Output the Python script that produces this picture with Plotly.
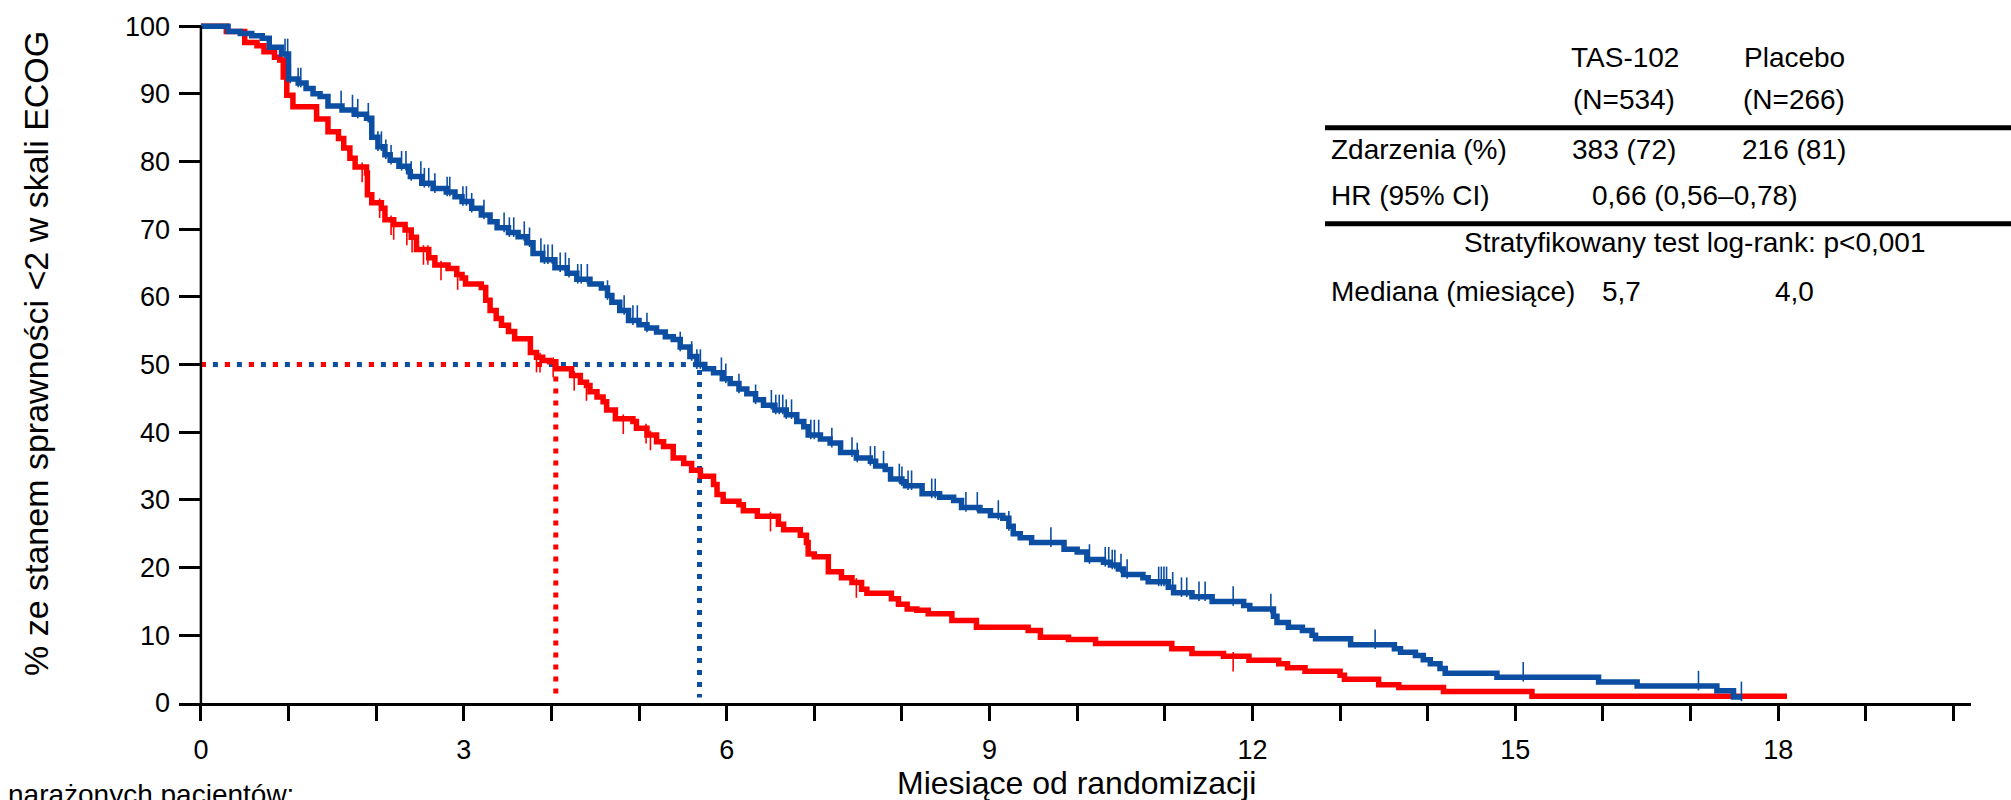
import numpy as np
import plotly.graph_objects as go

# ---------------- data ----------------
# TAS-102 (blue) Kaplan-Meier step points: month, % with ECOG <2
tas_t = [0, 0.31, 0.45, 0.58, 0.70, 0.78, 0.92, 1.00, 1.11, 1.20, 1.28, 1.36, 1.45, 1.61, 1.75,
         1.89, 1.95, 2.02, 2.10, 2.16, 2.26, 2.37, 2.39, 2.52, 2.65, 2.80, 2.90, 2.98, 3.09, 3.20,
         3.30, 3.38, 3.51, 3.62, 3.72, 3.79, 3.90, 4.04, 4.18, 4.29, 4.44, 4.57, 4.64, 4.69, 4.78,
         4.88, 5.00, 5.09, 5.20, 5.30, 5.39, 5.47, 5.58, 5.66, 5.75, 5.85, 5.95, 6.04, 6.14, 6.23,
         6.33, 6.42, 6.55, 6.68, 6.80, 6.88, 6.93, 7.07, 7.18, 7.30, 7.48, 7.64, 7.70, 7.81, 7.87,
         8.00, 8.04, 8.23, 8.43, 8.59, 8.68, 8.89, 9.01, 9.15, 9.22, 9.27, 9.35, 9.48, 9.85, 10.00,
         10.11, 10.30, 10.38, 10.47, 10.53, 10.75, 10.81, 11.04, 11.10, 11.31, 11.54, 11.90, 11.97,
         12.24, 12.28, 12.41, 12.57, 12.68, 12.72, 13.12, 13.62, 13.69, 13.86, 13.95, 14.03, 14.14,
         14.20, 14.79, 15.95, 16.39, 17.30, 17.49, 17.59]
tas_s = [100, 99.2, 98.9, 98.6, 98.2, 96.9, 95.9, 92.2, 91.6, 90.8, 90.0, 89.6, 88.2, 87.6, 87.0,
         86.4, 83.6, 82.2, 81.0, 80.2, 79.3, 78.5, 77.8, 76.8, 76.0, 75.5, 74.8, 74.1, 73.1, 72.1,
         71.1, 70.2, 69.5, 68.9, 68.0, 66.4, 65.5, 64.3, 63.5, 62.6, 61.9, 61.3, 60.2, 59.2, 58.0,
         56.5, 55.9, 55.4, 54.8, 54.1, 53.7, 52.6, 51.2, 50.0, 49.4, 48.8, 47.9, 47.2, 46.4, 45.7,
         44.8, 44.0, 43.3, 42.6, 41.6, 40.8, 39.6, 39.0, 38.4, 37.0, 36.2, 35.7, 35.0, 34.5, 33.1,
         32.7, 32.1, 30.9, 30.4, 29.9, 28.9, 28.4, 27.7, 27.3, 26.1, 25.0, 24.4, 23.7, 22.7, 22.3,
         21.2, 20.8, 20.4, 19.8, 19.0, 18.5, 17.9, 17.1, 16.3, 15.7, 15.0, 14.4, 13.9,
         12.8, 11.9, 11.2, 10.7, 10.0, 9.5, 8.6, 8.0, 7.5, 7.0, 6.4, 5.8, 5.1,
         4.4, 3.8, 3.1, 2.5, 1.8, 0.9, 0.9]

# Placebo (red)
pla_t = [0, 0.29, 0.50, 0.64, 0.72, 0.84, 0.90, 0.94, 0.98, 1.05, 1.32, 1.45, 1.57, 1.63, 1.70,
         1.76, 1.89, 1.90, 1.95, 2.06, 2.10, 2.20, 2.33, 2.40, 2.46, 2.60, 2.67, 2.82, 2.92, 2.98,
         3.02, 3.20, 3.25, 3.30, 3.37, 3.43, 3.51, 3.58, 3.76, 3.83, 3.90, 3.98, 4.05, 4.23, 4.33,
         4.40, 4.44, 4.52, 4.59, 4.63, 4.73, 4.93, 4.97, 5.09, 5.20, 5.28, 5.39, 5.51, 5.60, 5.70,
         5.85, 5.89, 5.96, 6.14, 6.19, 6.35, 6.59, 6.65, 6.84, 6.91, 6.93, 7.00, 7.16, 7.31, 7.43,
         7.54, 7.60, 7.88, 7.96, 8.06, 8.17, 8.30, 8.57, 8.85, 9.44, 9.58, 9.90, 10.21, 11.08, 11.31,
         11.67, 11.96, 12.30, 12.40, 12.60, 13.00, 13.05, 13.44, 13.67, 14.18, 15.19, 18.10]
pla_s = [100, 99.2, 97.6, 97.1, 96.2, 95.4, 95.0, 92.5, 89.8, 88.1, 86.3, 84.4, 83.4, 82.0, 80.5,
         79.2, 78.3, 75.1, 73.9, 73.1, 71.4, 70.7, 69.9, 68.8, 67.0, 65.8, 64.7, 64.2, 63.3, 62.8,
         61.9, 61.4, 59.5, 58.0, 56.8, 55.8, 54.9, 53.8, 51.8, 51.1, 50.6, 50.4, 49.4, 48.4, 47.4,
         46.9, 46.0, 45.2, 44.5, 43.3, 42.0, 41.6, 40.6, 39.6, 38.6, 37.9, 36.2, 35.4, 34.4, 33.5,
         32.3, 30.8, 29.8, 29.3, 28.4, 27.6, 26.4, 25.6, 24.8, 23.7, 22.0, 21.6, 19.4, 18.5, 17.8,
         16.8, 16.2, 15.4, 14.6, 13.9, 13.7, 13.2, 12.2, 11.2, 10.7, 9.7, 9.4, 8.8, 8.0, 7.3,
         6.9, 6.3, 5.8, 5.2, 4.7, 4.1, 3.5, 2.7, 2.3, 1.7, 1.0, 1.0]

# censoring times (months)
tas_cens = [0.96, 0.99, 1.02, 1.11, 1.14, 1.60, 1.73, 1.79, 1.91, 2.02, 2.06, 2.11, 2.17, 2.29,
            2.34, 2.40, 2.51, 2.55, 2.60, 2.67, 2.81, 2.84, 2.99, 3.03, 3.09, 3.23, 3.46, 3.52,
            3.57, 3.69, 3.75, 3.88, 3.92, 3.96, 4.01, 4.10, 4.16, 4.20, 4.30, 4.34, 4.41, 4.64,
            4.83, 4.93, 4.98, 5.09, 5.47, 5.60, 5.66, 5.70, 5.94, 5.99, 6.14, 6.33, 6.51, 6.56,
            6.60, 6.64, 6.68, 6.74, 6.96, 7.00, 7.05, 7.20, 7.43, 7.49, 7.64, 7.69, 7.79, 7.97,
            8.00, 8.07, 8.11, 8.34, 8.38, 8.73, 8.86, 9.10, 9.22, 9.70, 10.14, 10.32, 10.36,
            10.40, 10.43, 10.50, 10.57, 10.93, 10.96, 10.99, 11.02, 11.09, 11.19, 11.25, 11.39,
            11.46, 11.78, 12.21, 13.40, 15.09, 17.09, 17.58]
pla_cens = [1.84, 2.04, 2.17, 2.20, 2.35, 2.41, 2.54, 2.59, 2.74, 2.93, 3.83, 3.87, 4.02, 4.26,
            4.40, 4.82, 5.08, 5.13, 6.50, 7.48, 11.78]

# medians (months, as placed on the chart)
median_tas = 5.69
median_pla = 4.05
median_level = 50

x_tickvals = list(range(0, 21))
x_ticktext = [str(v) if v % 3 == 0 else "" for v in x_tickvals]
y_tickvals = list(range(0, 101, 10))

col_header = ["TAS-102", "Placebo"]
col_n = ["(N=534)", "(N=266)"]
row_labels = ["Zdarzenia (%)", "HR (95% CI)", "Mediana (miesiące)"]
events = ["383 (72)", "216 (81)"]
hr_text = "0,66 (0,56–0,78)"
logrank_text = "Stratyfikowany test log-rank: p<0,001"
median_text = ["5,7", "4,0"]

x_title = "Miesiące od randomizacji"
y_title = "% ze stanem sprawności <2 w skali ECOG"
risk_label = "narażonych pacjentów:"

# ---------------- styling ----------------
BLUE = "#0b4ea2"
RED = "#ff0000"
FONT = "Arial, Liberation Sans, sans-serif"
W, H = 2011, 800
L, R, T, B = 179, 40, 12, 97
XR = [-0.25, 20.2]
YR = [0, 101.5]
PW, PH = W - L - R, H - T - B
px_per_pct = PH / (YR[1] - YR[0])
LW = 5.5


def pxx(px):
    return (px - L) / PW


def pxy(py):
    return 1 - (py - T) / PH


def step_at(ts, ss, c):
    ts = np.asarray(ts)
    ss = np.asarray(ss)
    idx = np.searchsorted(ts, c, side="right") - 1
    return ss[idx]


fig = go.Figure()

# median reference lines (dotted)
fig.add_trace(go.Scatter(x=[0, median_tas, median_tas], y=[median_level, median_level, 0.8],
                         mode="lines", line=dict(color=BLUE, width=5, dash="5px,7px"),
                         hoverinfo="skip", showlegend=False))
fig.add_trace(go.Scatter(x=[0, median_pla], y=[median_level, median_level],
                         mode="lines", line=dict(color=RED, width=5, dash="5px,19px"),
                         hoverinfo="skip", showlegend=False))
fig.add_trace(go.Scatter(x=[median_pla, median_pla], y=[median_level, 0.8],
                         mode="lines", line=dict(color=RED, width=5, dash="5px,7px"),
                         hoverinfo="skip", showlegend=False))

# KM curves
fig.add_trace(go.Scatter(x=pla_t, y=pla_s, mode="lines", line=dict(color=RED, width=LW, shape="hv"),
                         name="Placebo", showlegend=False))
fig.add_trace(go.Scatter(x=tas_t, y=tas_s, mode="lines", line=dict(color=BLUE, width=LW, shape="hv"),
                         name="TAS-102", showlegend=False))

# censoring marks
off = 5.5 / px_per_pct
tas_cy = step_at(tas_t, tas_s, np.array(tas_cens)) + off
pla_cy = step_at(pla_t, pla_s, np.array(pla_cens)) - off
fig.add_trace(go.Scatter(x=tas_cens, y=tas_cy, mode="markers",
                         marker=dict(symbol="line-ns", size=14, line=dict(color=BLUE, width=1.6)),
                         hoverinfo="skip", showlegend=False, cliponaxis=False))
fig.add_trace(go.Scatter(x=pla_cens, y=pla_cy, mode="markers",
                         marker=dict(symbol="line-ns", size=14, line=dict(color=RED, width=1.6)),
                         hoverinfo="skip", showlegend=False, cliponaxis=False))

# y axis line
fig.add_shape(type="line", xref="x", yref="y", x0=0, x1=0, y0=0, y1=100,
              line=dict(color="black", width=2.5), layer="above")

# table rules
for yy in (124.5, 221):
    fig.add_shape(type="line", xref="paper", yref="paper", x0=pxx(1325), x1=pxx(W + 5),
                  y0=pxy(yy), y1=pxy(yy), line=dict(color="black", width=5))

ann = []
TF = dict(family=FONT, size=28, color="black")


def add_text(txt, x, y, xanchor="center"):
    ann.append(dict(text=txt, x=pxx(x), y=pxy(y), xref="paper", yref="paper", showarrow=False,
                    xanchor=xanchor, yanchor="middle", font=TF))


add_text(col_header[0], 1625, 54)
add_text(col_header[1], 1794, 54)
add_text(col_n[0], 1624, 96)
add_text(col_n[1], 1794, 96)
add_text(row_labels[0], 1329, 146, "left")
add_text(events[0], 1624, 146)
add_text(events[1], 1794, 146)
add_text(row_labels[1], 1329, 193, "left")
add_text(hr_text, 1695, 193)
add_text(logrank_text, 1694, 240)
add_text(row_labels[2], 1329, 289, "left")
add_text(median_text[0], 1621, 289)
add_text(median_text[1], 1794, 289)

ann.append(dict(text=risk_label, x=pxx(6), y=pxy(795), xref="paper", yref="paper", showarrow=False,
                xanchor="left", yanchor="middle", font=TF))
ann.append(dict(text=x_title, x=pxx(1076), y=pxy(783), xref="paper", yref="paper", showarrow=False,
                xanchor="center", yanchor="middle", font=dict(family=FONT, size=32, color="black")))
ann.append(dict(text=y_title, x=pxx(36), y=pxy(352), xref="paper", yref="paper", showarrow=False,
                xanchor="center", yanchor="middle", textangle=-90,
                font=dict(family=FONT, size=34, color="black")))

fig.update_layout(
    width=W, height=H, margin=dict(l=L, r=R, t=T, b=B, pad=0),
    paper_bgcolor="white", plot_bgcolor="white",
    annotations=ann, showlegend=False,
    xaxis=dict(range=XR, tickvals=x_tickvals, ticktext=x_ticktext, ticks="outside", ticklen=15,
               tickwidth=2.5, tickcolor="black", showline=True, linecolor="black", linewidth=2.5,
               showgrid=False, zeroline=False, tickfont=dict(family=FONT, size=27, color="black"),
               ticklabelstandoff=6),
    yaxis=dict(range=YR, tickvals=y_tickvals, ticks="inside", ticklen=22, tickwidth=2.5,
               tickcolor="black", showline=False, showgrid=False, zeroline=False,
               tickfont=dict(family=FONT, size=27, color="black"), ticklabelstandoff=8),
)

fig.write_html("out.html", config={"displayModeBar": False},
               post_script="document.body.style.margin='0px';document.body.style.overflow='hidden';")
